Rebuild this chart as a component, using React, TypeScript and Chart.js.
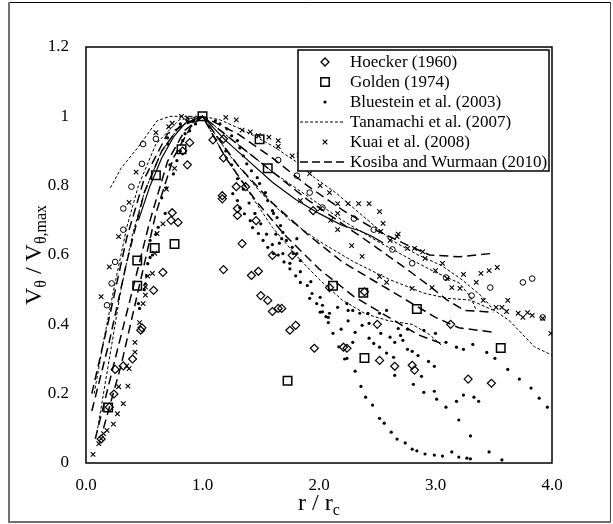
import React, { useEffect, useRef } from 'react';
import { Chart, registerables } from 'chart.js';

Chart.register(...registerables);

type P = [number, number];

// ---------- text ----------
const xTickLabels = ['0.0', '1.0', '2.0', '3.0', '4.0'];
const yTickLabels = ['0', '0.2', '0.4', '0.6', '0.8', '1', '1.2'];
const legendLabels = [
  'Hoecker (1960)',
  'Golden (1974)',
  'Bluestein et al. (2003)',
  'Tanamachi et al. (2007)',
  'Kuai et al. (2008)',
  'Kosiba and Wurmaan (2010)',
];
const xTitleParts: [string, boolean][] = [['r / r', false], ['c', true]];
const yTitleParts: [string, boolean][] = [['V', false], ['θ', true], [' / V', false], ['θ,max', true]];

// ---------- data ----------
const hoecker: P[] = [
  [0.13, 0.069], [0.2, 0.161], [0.24, 0.199], [0.25, 0.27], [0.32, 0.28], [0.4, 0.3], [0.47, 0.383], [0.48, 0.39],
  [0.58, 0.498], [0.66, 0.55], [0.73, 0.7], [0.74, 0.722], [0.79, 0.694], [0.83, 0.9], [0.87, 0.86], [0.89, 0.924],
  [1.09, 0.932], [1.18, 0.935], [1.18, 0.88], [1.17, 0.771], [1.17, 0.762], [1.29, 0.797], [1.37, 0.797], [1.3, 0.734],
  [1.3, 0.714], [1.46, 0.699], [1.34, 0.633], [1.18, 0.558], [1.42, 0.541], [1.48, 0.553], [1.5, 0.483], [1.56, 0.469],
  [1.6, 0.437], [1.65, 0.446], [1.68, 0.446], [1.6, 0.599], [1.77, 0.599], [1.75, 0.383], [1.8, 0.397], [1.95, 0.728],
  [1.96, 0.331], [2.09, 0.506], [2.21, 0.334], [2.24, 0.331], [2.39, 0.494], [2.5, 0.4], [2.52, 0.296], [2.65, 0.279],
  [2.8, 0.282], [2.82, 0.268], [3.13, 0.4], [3.28, 0.242], [3.48, 0.23],
];

const golden: P[] = [
  [0.19, 0.16], [0.44, 0.584], [0.44, 0.511], [0.59, 0.62], [0.6, 0.83], [0.76, 0.632], [0.82, 0.905], [1.0, 1.0],
  [1.49, 0.934], [1.56, 0.85], [1.73, 0.237], [2.12, 0.511], [2.38, 0.491], [2.39, 0.303], [2.84, 0.444], [3.56, 0.332],
];

const bluestein: P[] = [
  [0.45, 0.46], [0.46, 0.446], [0.5, 0.5], [0.51, 0.517], [0.52, 0.54], [0.53, 0.575], [0.55, 0.593], [0.55, 0.642],
  [0.57, 0.6], [0.6, 0.66], [0.62, 0.68], [0.65, 0.765], [0.68, 0.72], [0.69, 0.794], [0.7, 0.92], [0.7, 0.938],
  [0.72, 0.86], [0.75, 0.834], [0.78, 0.872], [0.81, 0.9], [0.81, 0.978], [0.83, 0.93], [0.85, 0.95], [0.87, 0.987],
  [0.89, 0.958], [0.92, 0.985], [0.94, 0.978], [0.96, 0.995],
  [1.11, 0.987], [1.15, 0.978], [1.21, 0.964], [1.25, 0.944], [1.3, 0.93], [1.32, 0.909], [1.35, 0.886], [1.38, 0.863],
  [1.42, 0.843], [1.47, 0.823], [1.49, 0.806], [1.54, 0.78], [1.56, 0.757], [1.6, 0.728], [1.64, 0.708], [1.67, 0.685],
  [1.69, 0.665], [1.72, 0.642], [1.77, 0.622], [1.81, 0.604],
  [1.26, 0.777], [1.3, 0.757], [1.32, 0.737], [1.36, 0.719], [1.41, 0.699], [1.43, 0.679], [1.48, 0.662], [1.52, 0.642],
  [1.56, 0.622], [1.61, 0.604],
  [1.2, 0.9], [1.25, 0.86], [1.3, 0.82], [1.35, 0.79], [1.4, 0.75], [1.45, 0.72], [1.5, 0.69], [1.55, 0.66],
  [1.6, 0.63], [1.65, 0.6], [1.7, 0.58], [1.75, 0.56], [1.8, 0.54],
  [1.61, 0.72], [1.63, 0.66], [1.66, 0.634], [1.75, 0.576], [1.84, 0.552], [1.93, 0.523], [1.94, 0.489], [2.03, 0.436],
  [2.06, 0.422], [2.12, 0.374], [2.17, 0.335], [2.22, 0.3],
  [2.31, 0.265], [2.36, 0.221], [2.4, 0.19], [2.46, 0.167], [2.52, 0.129], [2.56, 0.115], [2.62, 0.089], [2.67, 0.069],
  [2.74, 0.058], [2.8, 0.04], [2.84, 0.035], [2.91, 0.026], [2.99, 0.023], [3.06, 0.02], [3.14, 0.032], [3.2, 0.017],
  [3.27, 0.014], [3.3, 0.012], [3.46, 0.032], [3.57, 0.009],
  [1.68, 0.647], [1.81, 0.647], [1.69, 0.604], [1.78, 0.604], [1.84, 0.584], [1.84, 0.521], [1.9, 0.512], [1.92, 0.475],
  [2.01, 0.478], [2.03, 0.455], [2.09, 0.432], [2.16, 0.449], [2.25, 0.44], [2.35, 0.432], [2.42, 0.432], [2.52, 0.432],
  [2.58, 0.44],
  [1.98, 0.46], [2.01, 0.435], [2.08, 0.42], [2.08, 0.405], [2.19, 0.386], [2.24, 0.46], [2.25, 0.41], [2.29, 0.44],
  [2.31, 0.377], [2.37, 0.397], [2.29, 0.348], [2.24, 0.302], [2.43, 0.403], [2.43, 0.36], [2.47, 0.345], [2.52, 0.334],
  [2.53, 0.374], [2.58, 0.317], [2.61, 0.363], [2.64, 0.305], [2.65, 0.253], [2.65, 0.348], [2.68, 0.388], [2.7, 0.368],
  [2.72, 0.354], [2.76, 0.328], [2.76, 0.386], [2.8, 0.322], [2.85, 0.31], [2.81, 0.227], [2.88, 0.25], [2.94, 0.293],
  [2.99, 0.279], [2.9, 0.204], [2.99, 0.207], [3.01, 0.184], [3.09, 0.161], [3.18, 0.178], [3.2, 0.124], [3.24, 0.196],
  [3.3, 0.078], [3.33, 0.19], [3.37, 0.178], [3.32, 0.342], [3.24, 0.328], [3.18, 0.334], [3.09, 0.348], [3.0, 0.374],
  [2.9, 0.383], [3.44, 0.319], [3.51, 0.302], [3.62, 0.27], [3.72, 0.242], [3.82, 0.216], [3.89, 0.187], [3.96, 0.161],
];

const kuai: P[] = [
  [0.06, 0.025], [0.11, 0.056], [0.13, 0.07], [0.15, 0.085], [0.18, 0.094], [0.235, 0.112], [0.27, 0.142], [0.28, 0.22],
  [0.32, 0.171], [0.36, 0.222], [0.37, 0.272], [0.35, 0.28], [0.42, 0.32], [0.42, 0.348], [0.46, 0.405], [0.49, 0.46],
  [0.51, 0.484], [0.51, 0.508], [0.53, 0.539], [0.57, 0.547], [0.59, 0.605], [0.61, 0.662], [0.66, 0.69], [0.69, 0.79],
  [0.76, 0.85], [0.13, 0.48], [0.2, 0.566], [0.28, 0.653], [0.37, 0.752], [0.43, 0.839], [0.6, 0.953], [0.71, 0.97],
  [0.74, 0.98], [0.82, 1.0], [0.87, 0.995], [0.92, 0.99],
  [1.2, 0.997], [1.29, 0.99], [1.34, 0.96], [1.41, 0.955], [1.48, 0.944], [1.57, 0.94], [1.65, 0.93], [1.65, 0.913],
  [1.77, 0.886], [1.83, 0.889], [1.92, 0.835], [2.01, 0.8], [2.09, 0.78], [2.16, 0.748], [2.25, 0.748], [2.34, 0.748],
  [2.43, 0.748], [2.52, 0.725], [2.55, 0.691], [2.53, 0.668], [2.67, 0.653], [2.61, 0.642], [2.16, 0.72], [1.84, 0.757],
  [2.01, 0.734], [2.16, 0.673], [2.28, 0.627], [2.37, 0.596], [2.52, 0.538], [2.58, 0.521], [2.8, 0.504], [2.97, 0.506],
  [3.0, 0.555], [3.06, 0.576], [3.1, 0.532], [3.14, 0.506], [3.21, 0.504], [3.24, 0.544], [3.35, 0.521], [3.39, 0.547],
  [3.46, 0.555], [3.53, 0.564], [3.41, 0.469], [3.52, 0.449], [3.57, 0.449], [3.62, 0.469], [3.71, 0.432], [2.91, 0.59],
  [2.76, 0.619], [2.82, 0.619], [2.89, 0.61], [3.61, 0.437], [3.75, 0.42], [3.79, 0.434], [3.83, 0.426], [3.92, 0.417],
  [3.99, 0.374], [2.1, 0.7], [2.68, 0.66],
];

const openCircles: P[] = [
  [0.18, 0.455], [0.22, 0.518], [0.25, 0.58], [0.32, 0.673], [0.32, 0.734], [0.39, 0.797], [0.48, 0.863], [0.49, 0.92],
  [0.6, 0.935], [1.65, 0.874], [1.81, 0.829], [1.92, 0.78], [2.03, 0.737], [2.3, 0.705], [2.47, 0.673], [2.63, 0.616],
  [2.8, 0.576], [3.09, 0.535], [3.31, 0.483], [3.47, 0.506], [3.75, 0.521], [3.83, 0.532], [3.92, 0.42],
];

const tanamachi1: P[] = [[0.21, 0.794], [0.3, 0.85], [0.45, 0.912], [0.61, 0.987], [0.72, 1.0], [1.0, 1.0], [1.15, 0.99], [1.35, 0.96], [1.6, 0.915], [1.8, 0.87], [1.95, 0.826], [2.15, 0.778], [2.35, 0.72], [2.62, 0.643], [2.85, 0.6], [3.05, 0.57], [3.23, 0.528], [3.4, 0.48], [3.5, 0.441], [3.63, 0.412], [3.75, 0.37], [3.85, 0.335], [4.0, 0.311]];
const tanamachi2: P[] = [[0.07, 0.2], [0.15, 0.35], [0.25, 0.52], [0.35, 0.68], [0.45, 0.8], [0.6, 0.92], [0.8, 0.99], [1.0, 1.0], [1.3, 0.92], [1.6, 0.84], [1.9, 0.77], [2.2, 0.7], [2.5, 0.64], [2.8, 0.585], [3.0, 0.55], [3.2, 0.52], [3.3, 0.48], [3.35, 0.44]];
const tanamachi3: P[] = [[0.1, 0.1], [0.2, 0.3], [0.3, 0.5], [0.4, 0.66], [0.5, 0.78], [0.65, 0.9], [0.8, 0.97], [1.0, 1.0], [1.25, 0.88], [1.5, 0.78], [1.75, 0.7], [2.0, 0.64], [2.3, 0.58], [2.6, 0.53], [2.9, 0.49], [3.1, 0.475], [3.3, 0.47], [3.5, 0.44]];
const tanamachi4: P[] = [[1.0, 1.0], [1.2, 0.88], [1.4, 0.78], [1.6, 0.68], [1.8, 0.6], [2.0, 0.53], [2.2, 0.47], [2.4, 0.43], [2.6, 0.41], [2.8, 0.4], [2.95, 0.37], [3.05, 0.34]];

const kosiba1: P[] = [[0.05, 0.15], [0.2, 0.35], [0.35, 0.58], [0.5, 0.78], [0.65, 0.9], [0.8, 0.97], [1.0, 1.0], [1.3, 0.95], [1.6, 0.88], [1.9, 0.8], [2.2, 0.73], [2.5, 0.67], [2.75, 0.63], [2.95, 0.6], [3.2, 0.595], [3.5, 0.605]];
const kosiba2: P[] = [[0.08, 0.07], [0.25, 0.3], [0.4, 0.5], [0.55, 0.7], [0.7, 0.87], [0.85, 0.96], [1.0, 1.0], [1.3, 0.92], [1.6, 0.84], [1.9, 0.76], [2.2, 0.69], [2.5, 0.62], [2.75, 0.56], [2.95, 0.51], [3.1, 0.47], [3.25, 0.44], [3.5, 0.435]];
const kosiba3: P[] = [[0.05, 0.2], [0.2, 0.42], [0.35, 0.65], [0.5, 0.82], [0.7, 0.95], [1.0, 1.0], [1.3, 0.86], [1.6, 0.75], [1.9, 0.66], [2.2, 0.58], [2.5, 0.52], [2.8, 0.46], [3.0, 0.42], [3.2, 0.39], [3.5, 0.377]];
const kosiba4: P[] = [[0.15, 0.1], [0.3, 0.28], [0.45, 0.5], [0.6, 0.72], [0.75, 0.88], [0.9, 0.97], [1.0, 1.0], [1.2, 0.88], [1.45, 0.76], [1.7, 0.66], [2.0, 0.56], [2.3, 0.48], [2.6, 0.42], [2.85, 0.37], [3.05, 0.345]];

const solid1: P[] = [[0.45, 0.7], [0.55, 0.8], [0.65, 0.88], [0.75, 0.94], [0.85, 0.98], [1.0, 1.0], [1.2, 0.93], [1.4, 0.87], [1.6, 0.81], [1.8, 0.76], [2.0, 0.72], [2.2, 0.685], [2.35, 0.67], [2.45, 0.655], [2.55, 0.635]];

const FONT = "'Liberation Serif', 'Times New Roman', serif";
const toXY = (arr: P[]) => arr.map(([x, y]) => ({ x, y }));

function drawRich(ctx: CanvasRenderingContext2D, parts: [string, boolean][], mainSize: number, subSize: number, subShift: number) {
  const mainFont = `${mainSize}px ${FONT}`;
  const subFont = `${subSize}px ${FONT}`;
  let total = 0;
  for (const [t, sub] of parts) {
    ctx.font = sub ? subFont : mainFont;
    total += ctx.measureText(t).width;
  }
  let x = -total / 2;
  ctx.textAlign = 'left';
  ctx.textBaseline = 'alphabetic';
  for (const [t, sub] of parts) {
    ctx.font = sub ? subFont : mainFont;
    ctx.fillText(t, x, sub ? subShift : 0);
    x += ctx.measureText(t).width;
  }
}

function drawMarker(ctx: CanvasRenderingContext2D, kind: number, x: number, y: number) {
  ctx.save();
  ctx.strokeStyle = '#000';
  ctx.fillStyle = '#000';
  ctx.setLineDash([]);
  if (kind === 0) {
    ctx.lineWidth = 1.3;
    ctx.beginPath();
    ctx.moveTo(x - 4, y); ctx.lineTo(x, y - 4); ctx.lineTo(x + 4, y); ctx.lineTo(x, y + 4); ctx.closePath();
    ctx.stroke();
  } else if (kind === 1) {
    ctx.lineWidth = 1.5;
    ctx.strokeRect(x - 4.2, y - 4.2, 8.4, 8.4);
  } else if (kind === 2) {
    ctx.beginPath(); ctx.arc(x, y, 1.6, 0, Math.PI * 2); ctx.fill();
  } else if (kind === 4) {
    ctx.lineWidth = 1.2;
    ctx.beginPath();
    ctx.moveTo(x - 2.3, y - 2.3); ctx.lineTo(x + 2.3, y + 2.3);
    ctx.moveTo(x + 2.3, y - 2.3); ctx.lineTo(x - 2.3, y + 2.3);
    ctx.stroke();
  } else {
    ctx.lineWidth = kind === 3 ? 1 : 1.5;
    ctx.setLineDash(kind === 3 ? [3, 2] : [8, 4]);
    ctx.beginPath(); ctx.moveTo(x - 25, y); ctx.lineTo(x + 20, y); ctx.stroke();
  }
  ctx.restore();
}

const decorPlugin = {
  id: 'decor',
  afterDraw(chart: any) {
    const { ctx, chartArea } = chart;
    ctx.save();
    // outer frame
    ctx.strokeStyle = '#000';
    ctx.lineWidth = 1;
    ctx.beginPath(); ctx.moveTo(8, 2.5); ctx.lineTo(611, 2.5); ctx.stroke();
    ctx.strokeStyle = '#444';
    ctx.beginPath(); ctx.moveTo(610.5, 2); ctx.lineTo(610.5, 523); ctx.stroke();
    ctx.strokeStyle = '#707070';
    ctx.lineWidth = 2;
    ctx.beginPath(); ctx.moveTo(9, 2); ctx.lineTo(9, 523); ctx.stroke();
    ctx.beginPath(); ctx.moveTo(8, 522); ctx.lineTo(611, 522); ctx.stroke();

    // plot border
    ctx.strokeStyle = '#000';
    ctx.lineWidth = 1.5;
    ctx.strokeRect(chartArea.left, chartArea.top, chartArea.right - chartArea.left, chartArea.bottom - chartArea.top);

    // legend
    const right = chartArea.right - 3;
    const top = chartArea.top + 3;
    const left = right - 251;
    const bottom = top + 121;
    ctx.fillStyle = '#fff';
    ctx.fillRect(left, top, right - left, bottom - top);
    ctx.strokeStyle = '#000';
    ctx.lineWidth = 1.5;
    ctx.strokeRect(left, top, right - left, bottom - top);
    ctx.font = `17px ${FONT}`;
    ctx.textAlign = 'left';
    ctx.textBaseline = 'middle';
    legendLabels.forEach((label, i) => {
      const y = top + 12 + i * 20;
      drawMarker(ctx, i, left + 27, y);
      ctx.fillStyle = '#000';
      ctx.font = `17px ${FONT}`;
      ctx.textAlign = 'left';
      ctx.textBaseline = 'middle';
      ctx.fillText(label, left + 52, y + 1);
    });

    // axis titles
    ctx.fillStyle = '#000';
    ctx.save();
    ctx.translate((chartArea.left + chartArea.right) / 2, 510);
    drawRich(ctx, xTitleParts, 24, 16, 5);
    ctx.restore();
    ctx.save();
    ctx.translate(41, (chartArea.top + chartArea.bottom) / 2);
    ctx.rotate(-Math.PI / 2);
    drawRich(ctx, yTitleParts, 24, 16, 5);
    ctx.restore();
    ctx.restore();
  },
};

export default function App() {
  const canvasRef = useRef<HTMLCanvasElement | null>(null);

  useEffect(() => {
    const canvas = canvasRef.current;
    if (!canvas) return;
    Chart.defaults.font.family = FONT;
    Chart.defaults.color = '#000';

    const lineDs = (data: P[], dash: number[], width: number) => ({
      data: toXY(data),
      showLine: true,
      borderColor: '#000',
      borderWidth: width,
      borderDash: dash,
      pointRadius: 0,
      fill: false,
      tension: 0,
    });

    const chart = new Chart(canvas, {
      type: 'scatter',
      data: {
        datasets: [
          { data: toXY(golden), pointStyle: 'rect', pointRadius: 6, borderColor: '#000', borderWidth: 1.5, backgroundColor: 'rgba(0,0,0,0)' },
          { data: toXY(hoecker), pointStyle: 'rectRot', pointRadius: 4, borderColor: '#000', borderWidth: 1.2, backgroundColor: 'rgba(0,0,0,0)' },
          { data: toXY(bluestein), pointStyle: 'circle', pointRadius: 1.6, borderWidth: 0, borderColor: '#000', backgroundColor: '#000' },
          { data: toXY(kuai), pointStyle: 'crossRot', pointRadius: 3.2, borderColor: '#000', borderWidth: 1.1 },
          { data: toXY(openCircles), pointStyle: 'circle', pointRadius: 2.8, borderColor: '#000', borderWidth: 1, backgroundColor: 'rgba(0,0,0,0)' },
          lineDs(tanamachi1, [3, 2], 1),
          lineDs(tanamachi2, [3, 2], 1),
          lineDs(tanamachi3, [3, 2], 1),
          lineDs(tanamachi4, [3, 2], 1),
          lineDs(kosiba1, [9, 5], 1.5),
          lineDs(kosiba2, [9, 5], 1.5),
          lineDs(kosiba3, [9, 5], 1.5),
          lineDs(kosiba4, [9, 5], 1.5),
          lineDs(solid1, [], 1.2),
        ] as any,
      },
      options: {
        responsive: false,
        animation: false,
        devicePixelRatio: 1,
        events: [],
        layout: { padding: { top: 47, right: 61, left: 0, bottom: 0 } },
        plugins: { legend: { display: false }, tooltip: { enabled: false } },
        scales: {
          x: {
            type: 'linear',
            min: 0,
            max: 4,
            grid: { display: false, drawTicks: false },
            border: { display: false },
            ticks: {
              stepSize: 1,
              autoSkip: false,
              maxRotation: 0,
              padding: 12,
              color: '#000',
              font: { size: 17, family: FONT },
              callback: (_v: any, i: number) => xTickLabels[i],
            },
            afterFit: (s: any) => { s.height = 61; },
          },
          y: {
            type: 'linear',
            min: 0,
            max: 1.2,
            grid: { display: false, drawTicks: false },
            border: { display: false },
            ticks: {
              stepSize: 0.2,
              autoSkip: false,
              padding: 17,
              color: '#000',
              font: { size: 17, family: FONT },
              callback: (_v: any, i: number) => yTickLabels[i],
            },
            afterFit: (s: any) => { s.width = 86; },
          },
        },
      } as any,
      plugins: [decorPlugin],
    });
    return () => chart.destroy();
  }, []);

  return (
    <div style={{ position: 'absolute', left: 0, top: 0, width: 613, height: 524, background: '#fff' }}>
      <canvas ref={canvasRef} width={613} height={524} style={{ display: 'block', width: 613, height: 524 }} />
    </div>
  );
}
